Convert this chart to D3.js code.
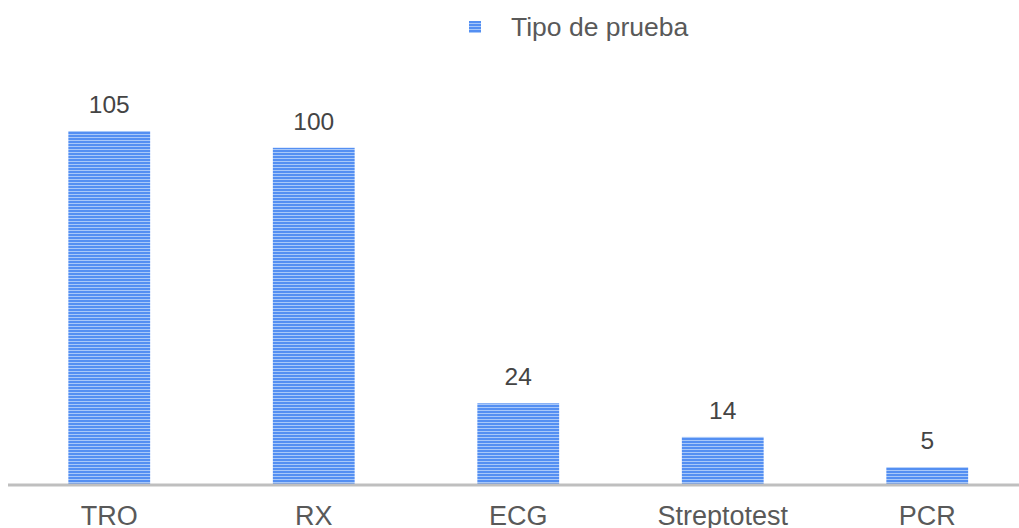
<!DOCTYPE html>
<html><head><meta charset="utf-8">
<script src="https://cdn.jsdelivr.net/npm/d3@7/dist/d3.min.js"></script>
<style>html,body{margin:0;padding:0;background:#fff;overflow:hidden}</style>
</head><body>
<svg id="c" width="1019" height="528"></svg>
<script>
const categories = ["TRO", "RX", "ECG", "Streptotest", "PCR"];
const values = [105, 100, 24, 14, 5];
const seriesName = "Tipo de prueba";

const svg = d3.select("#c");
const defs = svg.append("defs");
const pat = defs.append("pattern").attr("id","stripes").attr("patternUnits","userSpaceOnUse")
  .attr("width",4).attr("height",3);
pat.append("rect").attr("width",4).attr("height",3).attr("fill","#548ff2");
pat.append("rect").attr("y",2).attr("width",4).attr("height",1).attr("fill","#a8c8f9");

const x = d3.scaleBand().domain(categories).range([7,1029.5]).paddingInner(0.6).paddingOuter(0.3);
const y = d3.scaleLinear().domain([0,105]).range([484,131]);
const font = "'Liberation Sans', Arial, sans-serif";

svg.selectAll("rect.bar").data(values).join("rect").attr("class","bar")
  .attr("x",(d,i)=>x(categories[i])).attr("width",x.bandwidth())
  .attr("y",d=>y(d)).attr("height",d=>y(0)-y(d)).attr("fill","url(#stripes)");

svg.append("line").attr("x1",8).attr("x2",1019).attr("y1",485).attr("y2",485)
  .attr("stroke","#bfbfbf").attr("stroke-width",3);

svg.selectAll("text.val").data(values).join("text").attr("class","val")
  .attr("x",(d,i)=>x(categories[i])+x.bandwidth()/2).attr("y",d=>y(d)-18)
  .attr("text-anchor","middle").attr("font-family",font).attr("font-size",24.5)
  .attr("fill","#444444").text(d=>d);

const xAxis = d3.axisBottom(x).tickSize(0).tickPadding(0);
const gx = svg.append("g").attr("transform","translate(0,506)").call(xAxis);
gx.select(".domain").remove();
gx.selectAll("text").attr("font-family",font).attr("font-size",27).attr("fill","#595959")
  .attr("dy","0.71em");

const leg = svg.append("g");
leg.append("rect").attr("x",469).attr("y",21).attr("width",12).attr("height",12).attr("fill","url(#stripes)");
leg.append("text").attr("x",511).attr("y",36).attr("font-family",font).attr("font-size",26.5)
  .attr("fill","#595959").text(seriesName);
</script>
</body></html>
